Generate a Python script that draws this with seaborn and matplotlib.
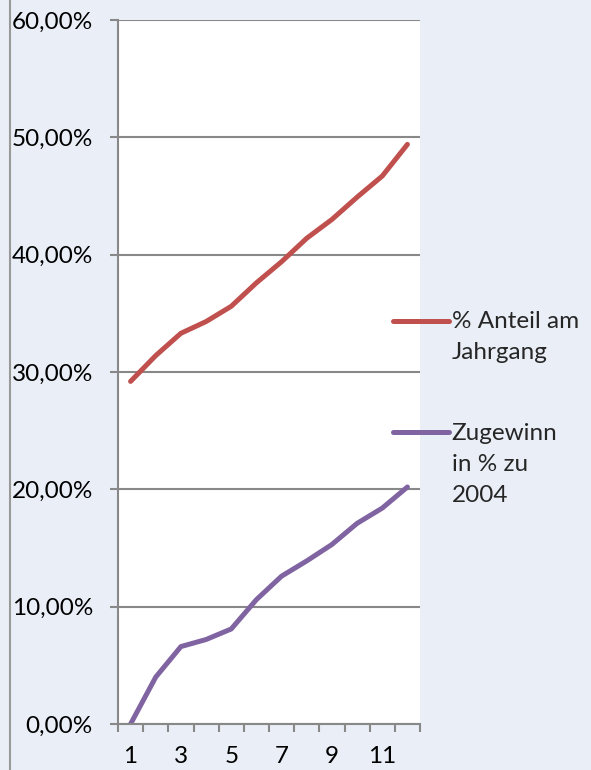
import pandas as pd
import matplotlib
matplotlib.use("Agg")
import matplotlib.pyplot as plt
import seaborn as sns
from matplotlib.lines import Line2D
from matplotlib.legend_handler import HandlerLine2D
from matplotlib.ticker import FuncFormatter, FixedLocator

# Chart data (values in percent)
categories = list(range(1, 13))
anteil = [29.2, 31.4, 33.3, 34.3, 35.6, 37.6, 39.4, 41.4, 43.0, 44.9, 46.7, 49.4]
zugewinn = [0.0, 4.0, 6.6, 7.2, 8.1, 10.6, 12.6, 13.9, 15.3, 17.1, 18.4, 20.2]
series_names = ["% Anteil am\nJahrgang", "Zugewinn\nin % zu\n2004"]
series_colors = ["#C0504D", "#8064A2"]
y_ticks = [0, 10, 20, 30, 40, 50, 60]
x_tick_pos = [1, 3, 5, 7, 9, 11]
x_tick_labels = ["1", "3", "5", "7", "9", "11"]

BG = "#EAEFF7"
GRID = "#888888"
FS = 17.5

sns.set_style("white")
plt.rcParams["font.family"] = ["Lato", "DejaVu Sans"]


class TopLineHandler(HandlerLine2D):
    """Put the legend line next to the first text line instead of the middle."""

    def __init__(self, shift, **kw):
        super().__init__(**kw)
        self.shift = shift

    def create_artists(self, legend, orig_handle, xdescent, ydescent,
                       width, height, fontsize, trans):
        artists = super().create_artists(legend, orig_handle, xdescent, ydescent,
                                         width, height, fontsize, trans)
        for a in artists:
            a.set_ydata(a.get_ydata() + self.shift)
        return artists


df = pd.DataFrame({
    "x": categories * 2,
    "value": anteil + zugewinn,
    "series": [series_names[0]] * len(categories) + [series_names[1]] * len(categories),
})

fig = plt.figure(figsize=(5.91, 7.70), dpi=100, facecolor=BG)
ax = fig.add_axes([118 / 591, 1 - 724 / 770, (420 - 118) / 591, (724 - 20) / 770])
ax.set_facecolor("white")

sns.lineplot(data=df, x="x", y="value", hue="series", palette=dict(zip(series_names, series_colors)),
             linewidth=3.6, ax=ax, legend=True)
for line in ax.lines:
    line.set_solid_capstyle("round")
    line.set_solid_joinstyle("round")

ax.set_xlim(0.5, 12.5)
ax.set_ylim(0, 60)
ax.set_xlabel("")
ax.set_ylabel("")

# y axis
ax.yaxis.set_major_locator(FixedLocator(y_ticks))
ax.yaxis.set_major_formatter(FuncFormatter(lambda v, p: f"{v:.2f}".replace(".", ",") + "%"))
ax.tick_params(axis="y", which="major", length=6, width=1.5, color=GRID, direction="out",
               pad=12, labelsize=FS, labelcolor="black", left=True)
ax.yaxis.grid(True, color=GRID, linewidth=1.5)
ax.set_axisbelow(True)

# x axis: tick marks on category boundaries, labels on odd categories
ax.xaxis.set_major_locator(FixedLocator(x_tick_pos))
ax.set_xticklabels(x_tick_labels)
ax.xaxis.set_minor_locator(FixedLocator([c - 0.5 for c in categories] + [categories[-1] + 0.5]))
ax.tick_params(axis="x", which="major", length=0, pad=16, labelsize=FS, labelcolor="black")
ax.tick_params(axis="x", which="minor", length=6, width=1.5, color=GRID, direction="out", bottom=True)

for side in ["top", "right"]:
    ax.spines[side].set_visible(False)
for side in ["left", "bottom"]:
    ax.spines[side].set_color(GRID)
    ax.spines[side].set_linewidth(1.5)

# legend
handles, labels = ax.get_legend_handles_labels()
ax.get_legend().remove()
pitch_pt = 32 * 0.72
handler_map = {handles[0]: TopLineHandler(pitch_pt * 0.5), handles[1]: TopLineHandler(pitch_pt * 1.0)}
leg = ax.legend(handles, labels, handler_map=handler_map, loc="upper left",
                bbox_to_anchor=(393 / 591, 1 - 311 / 770), bbox_transform=fig.transFigure,
                frameon=False, borderpad=0, borderaxespad=0, handlelength=2.3,
                handletextpad=0.12, labelspacing=2.45, fontsize=FS)
for t in leg.get_texts():
    t.set_linespacing(1.6)
for h in leg.legend_handles:
    h.set_linewidth(3.6)

# outer chart border on the left
fig.add_artist(Line2D([10 / 591, 10 / 591], [0, 1], transform=fig.transFigure, color="#999999", linewidth=1.5))

fig.savefig("out.png", dpi=100, facecolor=BG)
